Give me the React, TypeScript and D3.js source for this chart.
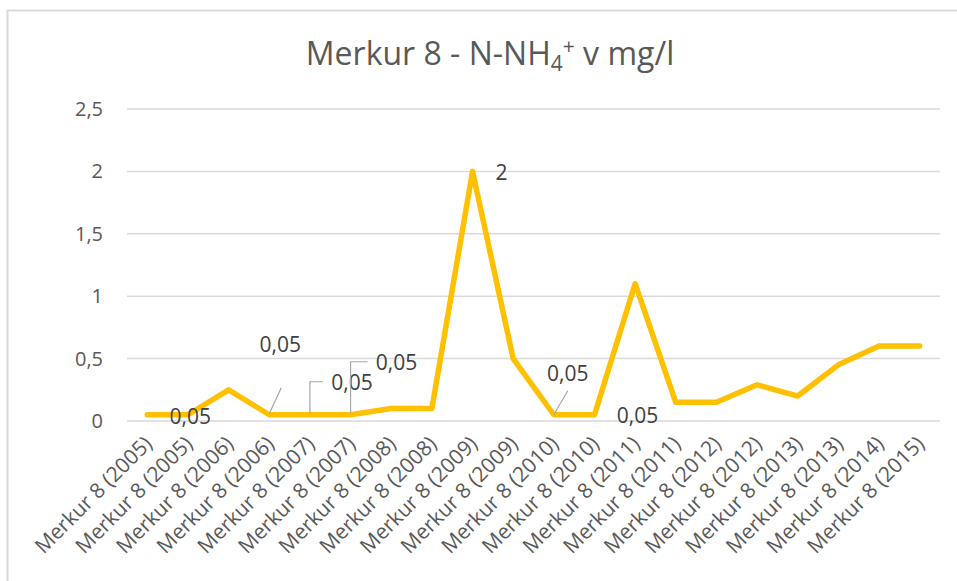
import React, { useRef, useEffect } from "react";
import * as d3 from "d3";

const categories = [
  "Merkur 8 (2005)", "Merkur 8 (2005)", "Merkur 8 (2006)", "Merkur 8 (2006)",
  "Merkur 8 (2007)", "Merkur 8 (2007)", "Merkur 8 (2008)", "Merkur 8 (2008)",
  "Merkur 8 (2009)", "Merkur 8 (2009)", "Merkur 8 (2010)", "Merkur 8 (2010)",
  "Merkur 8 (2011)", "Merkur 8 (2011)", "Merkur 8 (2012)", "Merkur 8 (2012)",
  "Merkur 8 (2013)", "Merkur 8 (2013)", "Merkur 8 (2014)", "Merkur 8 (2015)",
];
const values = [
  0.05, 0.05, 0.25, 0.05, 0.05, 0.05, 0.1, 0.1, 2, 0.5,
  0.05, 0.05, 1.1, 0.15, 0.15, 0.29, 0.2, 0.45, 0.6, 0.6,
];
const yTicks = [0, 0.5, 1, 1.5, 2, 2.5];

// data labels shown in the original (index, offset of text centre, leader path)
const labelLayout = [
  { i: 0, dx: 43, dy: 2, leader: null },
  { i: 3, dx: 11, dy: -70, leader: [[0, -1], [12, -27]] },
  { i: 4, dx: 42, dy: -32, leader: [[0, -1], [0, -33], [13, -33]] },
  { i: 5, dx: 46, dy: -52, leader: [[0, -1], [0, -53], [17, -53]] },
  { i: 8, dx: 29, dy: 1, leader: null },
  { i: 10, dx: 14, dy: -41, leader: [[0, 0], [14, -24]] },
  { i: 11, dx: 43, dy: 1, leader: null },
];

const W = 957;
const H = 581;
const FONT = "'Open Sans', sans-serif";
const TEXT = "#595959";

const App = () => {
  const svgRef = useRef(null);

  const drawChart = () => {
    const margin = { top: 109, right: 17, bottom: 160, left: 127 };
    const width = W - margin.left - margin.right;
    const height = 421 - margin.top;

    const root = d3.select(svgRef.current);
    root.selectAll("*").remove();
    root.attr("width", W).attr("height", H);

    /* chart border */
    root.append("path")
      .attr("d", `M7.5,${H} V10.5 H${W}`)
      .attr("fill", "none")
      .attr("stroke", "#d9d9d9")
      .attr("stroke-width", 2);

    /* title */
    const title = root.append("text")
      .attr("x", 490)
      .attr("y", 65)
      .attr("text-anchor", "middle")
      .style("font-family", FONT)
      .style("font-size", "32px")
      .attr("fill", TEXT);
    title.append("tspan").text("Merkur 8 - N-NH");
    title.append("tspan").attr("dy", 6).style("font-size", "21px").text("4");
    title.append("tspan").attr("dy", -17).style("font-size", "21px").text("+");
    title.append("tspan").attr("dy", 11).text(" v mg/l");

    const svg = root.append("g")
      .attr("transform", `translate(${margin.left}, ${margin.top})`);

    const x = d3.scaleBand()
      .domain(d3.range(categories.length))
      .range([0, width]);

    const y = d3.scaleLinear().domain([0, 2.5]).range([height, 0]);

    /* gridlines */
    svg.append("g")
      .selectAll("line")
      .data(yTicks)
      .enter()
      .append("line")
      .attr("x1", 0)
      .attr("x2", width)
      .attr("y1", (d) => y(d))
      .attr("y2", (d) => y(d))
      .attr("stroke", "#d9d9d9")
      .attr("stroke-width", 1.5);

    /* y tick labels */
    svg.append("g")
      .selectAll("text")
      .data(yTicks)
      .enter()
      .append("text")
      .attr("x", -24)
      .attr("y", (d) => y(d))
      .attr("dy", "0.35em")
      .attr("text-anchor", "end")
      .style("font-family", FONT)
      .style("font-size", "20px")
      .attr("fill", TEXT)
      .text((d) => String(d).replace(".", ","));

    const cx = (i) => x(i) + x.bandwidth() / 2;

    /* x labels */
    svg.append("g")
      .selectAll("text")
      .data(categories)
      .enter()
      .append("text")
      .attr("transform", (d, i) => `translate(${cx(i) + 6}, ${height + 24}) rotate(-45)`)
      .attr("text-anchor", "end")
      .style("font-family", FONT)
      .style("font-size", "21px")
      .attr("fill", TEXT)
      .text((d) => d);

    /* line */
    const line = d3.line()
      .x((d, i) => cx(i))
      .y((d) => y(d));

    svg.append("path")
      .datum(values)
      .attr("fill", "none")
      .attr("stroke", "#ffc000")
      .attr("stroke-width", 5.5)
      .attr("stroke-linejoin", "round")
      .attr("stroke-linecap", "round")
      .attr("d", line);

    /* data labels with leader lines */
    labelLayout.forEach((l) => {
      const px = cx(l.i);
      const py = y(values[l.i]);
      if (l.leader) {
        svg.append("path")
          .attr("d", d3.line()(l.leader.map((p) => [px + p[0], py + p[1]])))
          .attr("fill", "none")
          .attr("stroke", "#a6a6a6")
          .attr("stroke-width", 1.2);
      }
      svg.append("text")
        .attr("x", px + l.dx)
        .attr("y", py + l.dy)
        .attr("dy", "0.35em")
        .attr("text-anchor", "middle")
        .style("font-family", FONT)
        .style("font-size", "21px")
        .attr("fill", "#404040")
        .text(String(values[l.i]).replace(".", ","));
    });
  };

  useEffect(() => {
    drawChart();
  }, []);

  return (
    <div style={{ position: "absolute", left: 0, top: 0 }}>
      <svg ref={svgRef} style={{ display: "block" }} />
    </div>
  );
};

export default App;
